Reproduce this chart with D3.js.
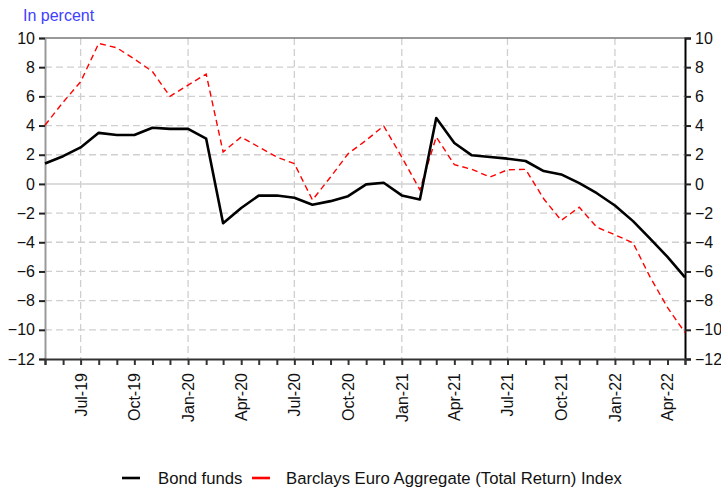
<!DOCTYPE html>
<html><head><meta charset="utf-8">
<script src="https://cdn.jsdelivr.net/npm/d3@7"></script>
<style>body{margin:0;background:#fff}svg{display:block}text{font-family:"Liberation Sans",Arial,sans-serif}</style>
</head><body><svg id="c" width="721" height="488"></svg>
<script>
const months = ["2019-05","2019-06","2019-07","2019-08","2019-09","2019-10","2019-11","2019-12",
"2020-01","2020-02","2020-03","2020-04","2020-05","2020-06","2020-07","2020-08","2020-09","2020-10","2020-11","2020-12",
"2021-01","2021-02","2021-03","2021-04","2021-05","2021-06","2021-07","2021-08","2021-09","2021-10","2021-11","2021-12",
"2022-01","2022-02","2022-03","2022-04","2022-05"];
const bondFunds = [1.4,1.9,2.5,3.5,3.35,3.35,3.85,3.77,3.77,3.1,-2.7,-1.65,-0.8,-0.8,-0.95,-1.43,-1.18,-0.84,-0.03,0.08,
-0.79,-1.07,4.52,2.8,1.96,1.84,1.73,1.57,0.88,0.65,0.05,-0.64,-1.48,-2.55,-3.7,-5.0,-6.4];
const barclays = [4.02,5.6,7.0,9.63,9.33,8.56,7.7,6.0,6.77,7.53,2.19,3.22,2.53,1.84,1.39,-1.1,0.47,2.07,2.99,3.97,
1.84,-0.4,3.22,1.32,1.0,0.47,0.97,1.0,-1.02,-2.5,-1.6,-2.97,-3.49,-4.04,-6.29,-8.47,-10.19];
const yTicks = [10,8,6,4,2,0,-2,-4,-6,-8,-10,-12];
const xLabelMonths = ["2019-07","2019-10","2020-01","2020-04","2020-07","2020-10","2021-01","2021-04","2021-07","2021-10","2022-01","2022-04"];
const gridMonths = ["2019-07","2020-01","2020-07","2021-01","2021-07","2022-01"];
const seriesNames = ["Bond funds","Barclays Euro Aggregate (Total Return) Index"];

const parse = d3.timeParse("%Y-%m");
const fmt = d3.timeFormat("%b-%y");
const dates = months.map(parse);
const L=45,R=685,T=38,B=359;
const FS=16;
const svg = d3.select("#c");
const x = d3.scaleTime().domain([dates[0],dates[dates.length-1]]).range([L,R]);
const y = d3.scaleLinear().domain([-12,10]).range([B,T]);

// gridlines
const g = svg.append("g");
yTicks.filter(v=>v!==0 && v!==10 && v!==-12).forEach(v=>{
  g.append("line").attr("x1",L).attr("x2",R).attr("y1",y(v)).attr("y2",y(v))
   .attr("stroke","#cfcfcf").attr("stroke-width",1.3).attr("stroke-dasharray","7,4");
});
gridMonths.map(parse).forEach(d=>{
  g.append("line").attr("x1",x(d)).attr("x2",x(d)).attr("y1",T).attr("y2",B)
   .attr("stroke","#cfcfcf").attr("stroke-width",1.3).attr("stroke-dasharray","7,4");
});
g.append("line").attr("x1",L).attr("x2",R).attr("y1",y(0)).attr("y2",y(0)).attr("stroke","#d0d0d0").attr("stroke-width",1.5);
// top border
svg.append("line").attr("x1",L).attr("x2",R).attr("y1",T).attr("y2",T).attr("stroke","#777").attr("stroke-width",1.3);

// axes
const yl = svg.append("g").attr("transform",`translate(${L},0)`)
  .call(d3.axisLeft(y).tickValues(yTicks).tickSize(6).tickPadding(4));
yl.select(".domain").attr("stroke","#999").attr("stroke-width",2);
yl.selectAll(".tick line").attr("stroke","#222").attr("stroke-width",2);
yl.selectAll("text").attr("font-size",FS).attr("fill","#111");

const yr = svg.append("g").attr("transform",`translate(${R},0)`)
  .call(d3.axisRight(y).tickValues(yTicks).tickSize(6).tickPadding(4));
yr.select(".domain").attr("stroke","#000").attr("stroke-width",2);
yr.selectAll(".tick line").attr("stroke","#222").attr("stroke-width",2);
yr.selectAll("text").attr("font-size",FS).attr("fill","#111");

const xa = svg.append("g").attr("transform",`translate(0,${B})`)
  .call(d3.axisBottom(x).tickValues(dates).tickSize(6).tickFormat(""));
xa.select(".domain").attr("stroke","#333").attr("stroke-width",2);
xa.selectAll(".tick line").attr("stroke","#333").attr("stroke-width",2);
const labelDates = xLabelMonths.map(parse);
svg.append("g").selectAll("text").data(labelDates).join("text")
  .attr("transform",d=>`translate(${x(d)+6},${B+14}) rotate(-90)`)
  .attr("text-anchor","end").attr("font-size",FS).attr("fill","#111")
  .text(d=>fmt(d));

// lines
const line = vals => d3.line().x((d,i)=>x(dates[i])).y(d=>y(d))(vals);
svg.append("path").attr("d",line(barclays)).attr("fill","none").attr("stroke","#ff0000")
  .attr("stroke-width",1.4).attr("stroke-dasharray","6,4");
svg.append("path").attr("d",line(bondFunds)).attr("fill","none").attr("stroke","#000")
  .attr("stroke-width",2.6).attr("stroke-linejoin","round");

// title
svg.append("text").attr("x",23).attr("y",21).attr("font-size",FS).attr("fill","#4040ff").text("In percent");

// legend
const lg = svg.append("g");
lg.append("line").attr("x1",122).attr("x2",140).attr("y1",478).attr("y2",478).attr("stroke","#000").attr("stroke-width",2.6);
lg.append("text").attr("x",158).attr("y",484).attr("font-size",16.7).attr("fill","#111").text(seriesNames[0]);
lg.append("line").attr("x1",252).attr("x2",270).attr("y1",478).attr("y2",478).attr("stroke","#ff0000").attr("stroke-width",2.6);
lg.append("text").attr("x",286).attr("y",484).attr("font-size",16.7).attr("fill","#111").text(seriesNames[1]);
</script></body></html>
